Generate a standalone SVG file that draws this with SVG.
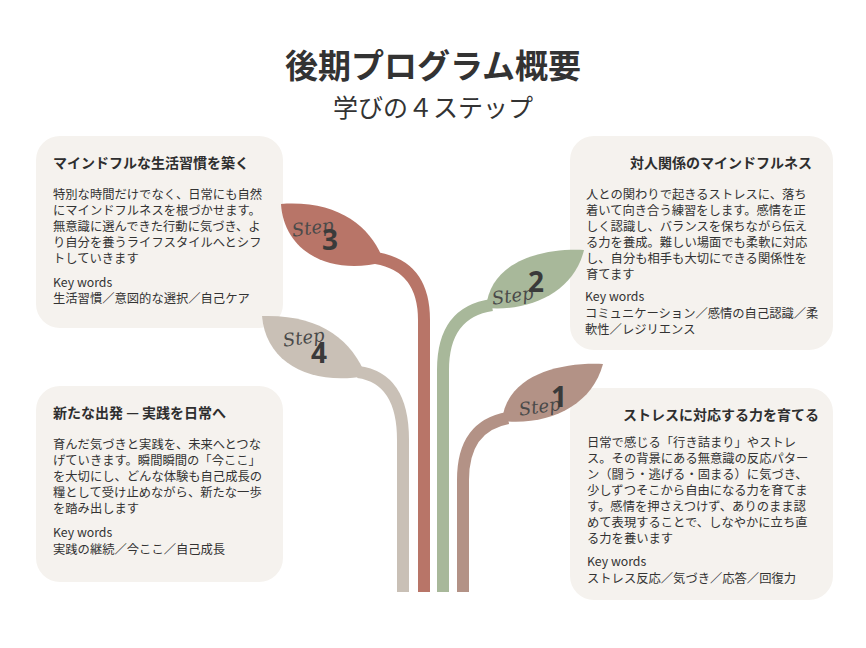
<svg xmlns="http://www.w3.org/2000/svg" width="866" height="648" viewBox="0 0 866 648">
<style>
text{font-family:"Noto Sans CJK JP","Noto Sans",sans-serif;fill:#333}
.card{fill:#f5f2ee}
.h{font-size:14px;font-weight:700;fill:#2e2e2e}
.b{font-size:12.3px}
.k{font-size:12.3px}
.stem{fill:none;stroke-width:12}
.step{font-family:"DejaVu Serif",serif;font-style:italic;font-size:18px;fill:#4a4a4a;font-weight:300}
.n{font-family:"Noto Sans",sans-serif;font-size:28px;font-weight:700;fill:#3a3a3a}
</style>
<rect width="866" height="648" fill="#fff"/>
<g id="title">
<text x="433" y="78" text-anchor="middle" style="font-size:33px;font-weight:700;fill:#333">後期プログラム概要</text>
<text x="433" y="117" text-anchor="middle" style="font-size:25px;font-weight:400;fill:#333">学びの４ステップ</text>
</g>
<g id="connectors">
<path class="stem" stroke="#c9c0b6" d="M358,372 Q403,378 403,440 L403,592"/>
<path class="stem" stroke="#b87568" d="M376,258 Q424,266 424,320 L424,592"/>
<path class="stem" stroke="#a8b89a" d="M492,305 Q443,312 443,370 L443,592"/>
<path class="stem" stroke="#b39286" d="M508,418 Q463,426 463,480 L463,592"/>
</g>
<g id="card3">
<rect class="card" x="36" y="136" width="247" height="192" rx="24"/>
<text class="h" x="53" y="168">マインドフルな生活習慣を築く</text>
<text class="b" x="53" y="199">特別な時間だけでなく、日常にも自然</text>
<text class="b" x="53" y="215">にマインドフルネスを根づかせます。</text>
<text class="b" x="53" y="231">無意識に選んできた行動に気づき、よ</text>
<text class="b" x="53" y="247">り自分を養うライフスタイルへとシフ</text>
<text class="b" x="53" y="263">トしていきます</text>
<text class="k" x="53" y="287">Key words</text>
<text class="k" x="53" y="303">生活習慣／意図的な選択／自己ケア</text>
</g>
<g id="card2">
<rect class="card" x="570" y="136" width="263" height="214" rx="24"/>
<text class="h" x="812" y="168" text-anchor="end">対人関係のマインドフルネス</text>
<text class="b" x="586" y="199">人との関わりで起きるストレスに、落ち</text>
<text class="b" x="586" y="215">着いて向き合う練習をします。感情を正</text>
<text class="b" x="586" y="231">しく認識し、バランスを保ちながら伝え</text>
<text class="b" x="586" y="247">る力を養成。難しい場面でも柔軟に対応</text>
<text class="b" x="586" y="263">し、自分も相手も大切にできる関係性を</text>
<text class="b" x="586" y="279">育てます</text>
<text class="k" x="585" y="301">Key words</text>
<text class="k" x="585" y="318">コミュニケーション／感情の自己認識／柔</text>
<text class="k" x="585" y="334">軟性／レジリエンス</text>
</g>
<g id="card4">
<rect class="card" x="36" y="386" width="247" height="196" rx="24"/>
<text class="h" x="53" y="418">新たな出発 — 実践を日常へ</text>
<text class="b" x="53" y="449">育んだ気づきと実践を、未来へとつな</text>
<text class="b" x="53" y="465">げていきます。瞬間瞬間の「今ここ」</text>
<text class="b" x="53" y="481">を大切にし、どんな体験も自己成長の</text>
<text class="b" x="53" y="497">糧として受け止めながら、新たな一歩</text>
<text class="b" x="53" y="513">を踏み出します</text>
<text class="k" x="53" y="537">Key words</text>
<text class="k" x="53" y="554">実践の継続／今ここ／自己成長</text>
</g>
<g id="card1">
<rect class="card" x="570" y="388" width="263" height="212" rx="24"/>
<text class="h" x="819" y="420" text-anchor="end">ストレスに対応する力を育てる</text>
<text class="b" x="587" y="447">日常で感じる「行き詰まり」やストレ</text>
<text class="b" x="587" y="463">ス。その背景にある無意識の反応パター</text>
<text class="b" x="587" y="479">ン（闘う・逃げる・固まる）に気づき、</text>
<text class="b" x="587" y="495">少しずつそこから自由になる力を育てま</text>
<text class="b" x="587" y="511">す。感情を押さえつけず、ありのまま認</text>
<text class="b" x="587" y="527">めて表現することで、しなやかに立ち直</text>
<text class="b" x="587" y="543">る力を養います</text>
<text class="k" x="587" y="566">Key words</text>
<text class="k" x="587" y="583">ストレス反応／気づき／応答／回復力</text>
</g>
<g id="leaf3">
<path fill="#b87568" d="M281,204 C340,200 372,228 384,262 C330,276 284,252 281,204 Z"/>
<text class="step" x="292" y="235" transform="rotate(-8 305 230)">Step</text>
<text class="n" x="322" y="250">3</text>
</g>
<g id="leaf2">
<path fill="#a8b89a" d="M486,308 C490,262 540,248 584,250 C574,292 530,312 486,308 Z"/>
<text class="step" x="492" y="303" transform="rotate(-8 505 298)">Step</text>
<text class="n" x="528" y="292">2</text>
</g>
<g id="leaf4">
<path fill="#c9c0b6" d="M262,316 C320,314 352,340 366,376 C312,386 266,364 262,316 Z"/>
<text class="step" x="283" y="345" transform="rotate(-8 296 340)">Step</text>
<text class="n" x="311" y="363">4</text>
</g>
<g id="leaf1">
<path fill="#b39286" d="M502,421 C506,376 558,362 603,364 C592,406 548,426 502,421 Z"/>
<text class="step" x="519" y="414" transform="rotate(-8 532 409)">Step</text>
<text class="n" x="551" y="407">1</text>
</g>
</svg>
